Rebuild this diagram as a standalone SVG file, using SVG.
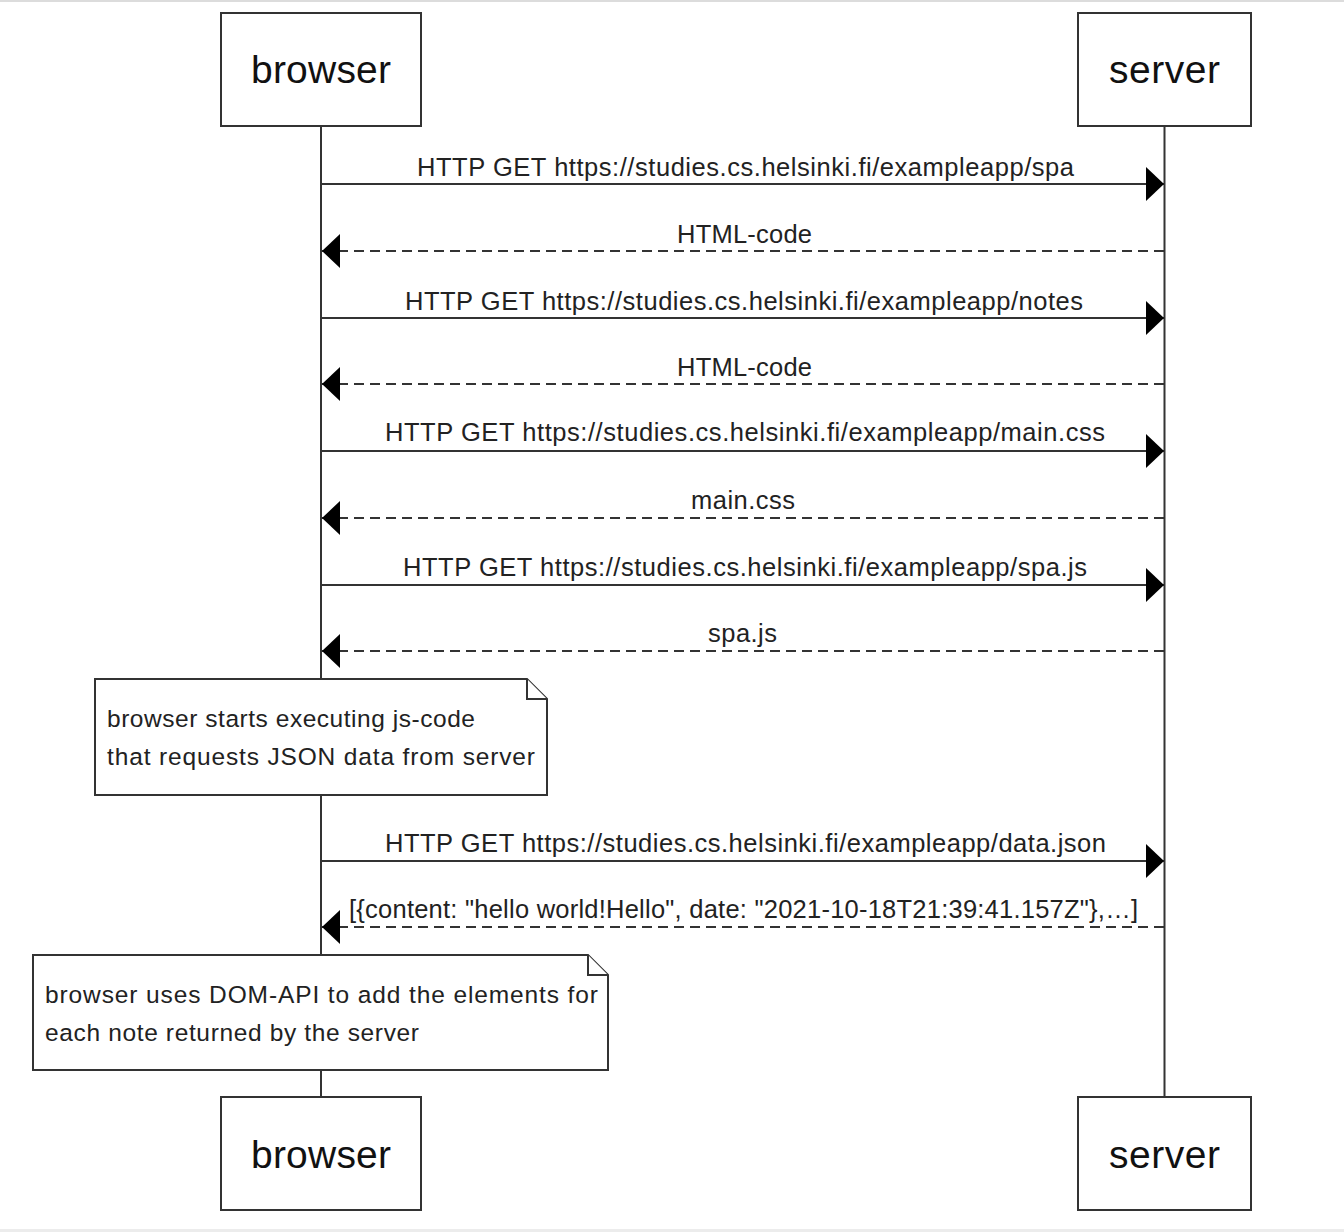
<svg xmlns="http://www.w3.org/2000/svg" width="1344" height="1232" viewBox="0 0 1344 1232">
<defs>
<style>
.actor rect{fill:#fff;stroke:#333;stroke-width:2}
.actor text{font-family:"Liberation Sans",Arial,sans-serif;font-size:39px;fill:#111;text-anchor:middle}
.life{stroke:#333;stroke-width:2}
.msg{stroke:#333;stroke-width:2;fill:none}
.dash{stroke-dasharray:10 6}
.lbl{font-family:"Liberation Sans",Arial,sans-serif;font-size:25.5px;fill:#222}
.note path{fill:#fff;stroke:#333;stroke-width:2}
.note text{font-family:"Liberation Sans",Arial,sans-serif;font-size:24.5px;fill:#222}
</style>
<marker id="ah" viewBox="0 0 18 34" refX="18" refY="17" markerWidth="18" markerHeight="34" markerUnits="userSpaceOnUse" orient="auto">
<path d="M0,0 L18,17 L0,34 Z" fill="#000"/>
</marker>
</defs>
<rect x="0" y="0" width="1344" height="1232" fill="#fff"/>
<rect x="0" y="0" width="1344" height="2" fill="#dcdcdc"/>
<rect x="0" y="1229" width="1344" height="3" fill="#ececec"/>

<g id="lifelines">
<line class="life" x1="321" y1="126" x2="321" y2="1096"/>
<line class="life" x1="1164.5" y1="126" x2="1164.5" y2="1096"/>
</g>

<g id="actor-browser-top" class="actor"><rect x="221" y="13" width="200" height="113"/><text x="321" y="83" textLength="140">browser</text></g>
<g id="actor-server-top" class="actor"><rect x="1078" y="13" width="173" height="113"/><text x="1164.5" y="83" textLength="111">server</text></g>
<g id="actor-browser-bottom" class="actor"><rect x="221" y="1097" width="200" height="113"/><text x="321" y="1168" textLength="140">browser</text></g>
<g id="actor-server-bottom" class="actor"><rect x="1078" y="1097" width="173" height="113"/><text x="1164.5" y="1168" textLength="111">server</text></g>

<g id="connectors">
<line class="msg" x1="321" y1="184" x2="1164" y2="184" marker-end="url(#ah)"/>
<text class="lbl" x="417" y="176" textLength="657">HTTP GET https://studies.cs.helsinki.fi/exampleapp/spa</text>
<line class="msg dash" x1="1164" y1="251" x2="322" y2="251" marker-end="url(#ah)"/>
<text class="lbl" x="677" y="243" textLength="135">HTML-code</text>
<line class="msg" x1="321" y1="318" x2="1164" y2="318" marker-end="url(#ah)"/>
<text class="lbl" x="405" y="310" textLength="678">HTTP GET https://studies.cs.helsinki.fi/exampleapp/notes</text>
<line class="msg dash" x1="1164" y1="384" x2="322" y2="384" marker-end="url(#ah)"/>
<text class="lbl" x="677" y="376" textLength="135">HTML-code</text>
<line class="msg" x1="321" y1="451" x2="1164" y2="451" marker-end="url(#ah)"/>
<text class="lbl" x="385" y="441" textLength="720">HTTP GET https://studies.cs.helsinki.fi/exampleapp/main.css</text>
<line class="msg dash" x1="1164" y1="518" x2="322" y2="518" marker-end="url(#ah)"/>
<text class="lbl" x="691" y="509" textLength="104">main.css</text>
<line class="msg" x1="321" y1="585" x2="1164" y2="585" marker-end="url(#ah)"/>
<text class="lbl" x="403" y="576" textLength="684">HTTP GET https://studies.cs.helsinki.fi/exampleapp/spa.js</text>
<line class="msg dash" x1="1164" y1="651" x2="322" y2="651" marker-end="url(#ah)"/>
<text class="lbl" x="708" y="642" textLength="69">spa.js</text>
<line class="msg" x1="321" y1="861" x2="1164" y2="861" marker-end="url(#ah)"/>
<text class="lbl" x="385" y="852" textLength="721">HTTP GET https://studies.cs.helsinki.fi/exampleapp/data.json</text>
<line class="msg dash" x1="1164" y1="927" x2="322" y2="927" marker-end="url(#ah)"/>
<text class="lbl" x="349" y="918" textLength="789">[{content: "hello world!Hello", date: "2021-10-18T21:39:41.157Z"},…]</text>
</g>

<g id="note-1" class="note">
<path d="M95,679 L527,679 L547,699 L547,795 L95,795 Z"/>
<path d="M527,679 L527,699 L547,699"/>
<text x="107" y="727" textLength="368">browser starts executing js-code</text>
<text x="107" y="765" textLength="428">that requests JSON data from server</text>
</g>

<g id="note-2" class="note">
<path d="M33,955 L588,955 L608,975 L608,1070 L33,1070 Z"/>
<path d="M588,955 L588,975 L608,975"/>
<text x="45" y="1003" textLength="553">browser uses DOM-API to add the elements for</text>
<text x="45" y="1041" textLength="374">each note returned by the server</text>
</g>
</svg>
